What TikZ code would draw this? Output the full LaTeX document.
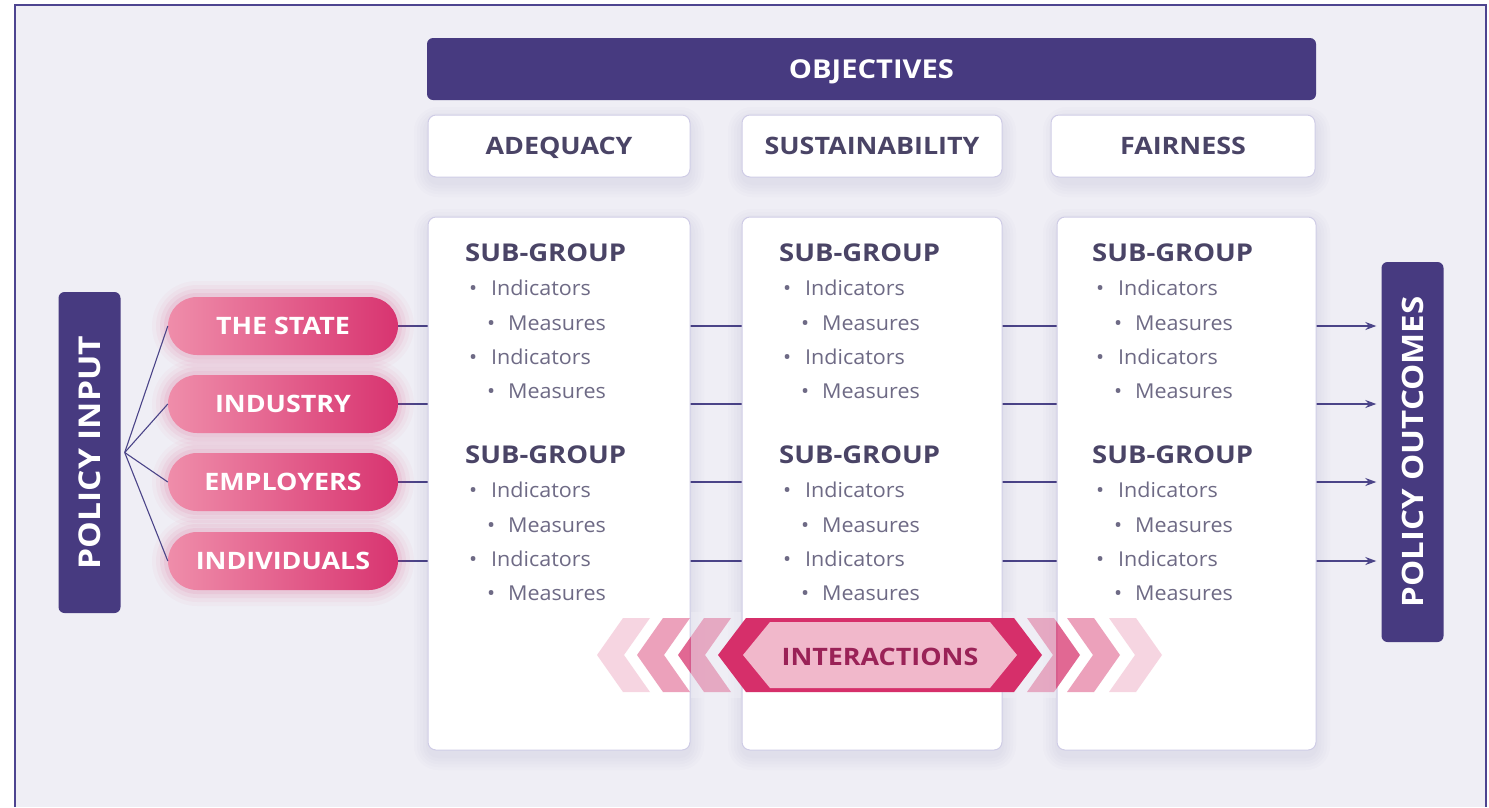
\documentclass[tikz,border=0pt]{standalone}
\usepackage{fontspec}
\setmainfont{Open Sans}[UprightFeatures={FakeStretch=1.05},BoldFeatures={FakeStretch=1.12}]
\usetikzlibrary{arrows.meta,calc}
\definecolor{bgc}{HTML}{EFEEF5}
\definecolor{framec}{HTML}{4D4490}
\definecolor{navy}{HTML}{473A80}
\definecolor{headtxt}{HTML}{4A4466}
\definecolor{bodytxt}{HTML}{6E6A85}
\definecolor{boxline}{HTML}{CFCCE6}
\definecolor{linec}{HTML}{4B4488}
\definecolor{pinkL}{HTML}{EF8DAA}
\definecolor{pinkR}{HTML}{D83470}
\definecolor{hexdark}{HTML}{D62F6A}
\definecolor{hexlight}{HTML}{F1B8CB}
\definecolor{inttxt}{HTML}{9A2257}
\pgfdeclarelayer{bgl}
\pgfdeclarelayer{back}
\pgfsetlayers{bgl,back,main}
\tikzset{
  navybox/.style={fill=navy, rounded corners=6pt, inner sep=0pt, text=white,
    text height=18pt, text depth=0pt,
    font=\fontsize{26}{28}\selectfont\bfseries},
  headbox/.style={fill=white, draw=boxline, line width=1pt, rounded corners=8pt,
    minimum height=62pt, inner sep=0pt, text=headtxt, text height=17pt, text depth=0pt,
    font=\fontsize{24}{28}\selectfont\bfseries},
  colbox/.style={fill=white, draw=boxline, line width=1pt, rounded corners=8pt,
    minimum height=533pt, inner sep=0pt},
  sidebox/.style={fill=navy, rounded corners=6pt, inner sep=0pt, text=white,
    rotate=90, minimum height=62pt, text height=21pt, text depth=0pt},
  pill/.style={rounded corners=29pt, minimum width=230pt, minimum height=58pt,
    inner sep=0pt, left color=pinkL, right color=pinkR, text=white,
    text height=17pt, text depth=0pt,
    font=\fontsize{24}{28}\selectfont\bfseries},
  conn/.style={draw=linec, line width=1.3pt},
  sgtxt/.style={anchor=base west, inner sep=0pt, text=headtxt,
    font=\fontsize{24.5}{28}\selectfont\bfseries},
  itemtxt/.style={anchor=base west, inner sep=0pt, text=bodytxt,
    font=\fontsize{20.5}{24}\selectfont},
}
\begin{document}
\begin{tikzpicture}[x=1pt,y=-1pt]
\useasboundingbox (0,0) rectangle (1489,807);
\begin{pgfonlayer}{bgl}
\fill[white] (0,0) rectangle (1489,807);
\fill[bgc] (15,5) rectangle (1486,807);
\draw[framec, line width=1.8pt] (15,807) -- (15,5) -- (1486,5) -- (1486,807);
\end{pgfonlayer}

% soft shadows of the columns
\foreach \xa/\xb in {428/690, 742/1002, 1057/1316}{
  \foreach \e in {14,11,8,5,2}{
    \fill[navy, opacity=0.014, rounded corners=10pt+\e] (\xa-\e,217-\e+6) rectangle (\xb+\e,750+\e+6);
    \fill[navy, opacity=0.014, rounded corners=10pt+\e] (\xa-\e,115-\e+6) rectangle (\xb+\e,177+\e+6);
  }
}

% objectives bar and headers
\node[navybox, minimum width=889pt, minimum height=62pt] (obj) at (871.5,69) {OBJECTIVES};
\node[headbox, minimum width=262pt] (adq) at (559,146) {ADEQUACY};
\node[headbox, minimum width=260pt] (sus) at (872,146) {SUSTAINABILITY};
\node[headbox, minimum width=264pt] (fai) at (1183,146) {FAIRNESS};

% columns
\node[colbox, minimum width=262pt] (c1) at (559,483.5) {};
\node[colbox, minimum width=260pt] (c2) at (872,483.5) {};
\node[colbox, minimum width=259pt] (c3) at (1186.5,483.5) {};

% column contents
\foreach \x [count=\i] in {465,779,1092}{
  \foreach \g/\dy in {a/0,b/202}{
    \node[sgtxt] (sg\i\g) at (\x,261+\dy) {SUB-GROUP};
    \node[itemtxt] (ba\i\g) at (\x+4,295+\dy) {•};
    \node[itemtxt] (ia\i\g) at (\x+26,295+\dy) {Indicators};
    \node[itemtxt] (bb\i\g) at (\x+22,330+\dy) {•};
    \node[itemtxt] (ma\i\g) at (\x+43,330+\dy) {Measures};
    \node[itemtxt] (bc\i\g) at (\x+4,364+\dy) {•};
    \node[itemtxt] (ib\i\g) at (\x+26,364+\dy) {Indicators};
    \node[itemtxt] (bd\i\g) at (\x+22,398+\dy) {•};
    \node[itemtxt] (mb\i\g) at (\x+43,398+\dy) {Measures};
  }
}

% interaction chevrons
\def\d{26}\def\w{27}
\foreach \t/\op in {1080/0.72, 1120/0.45, 1162/0.2}{
  \fill[hexdark, opacity=\op] (\t,655) -- (\t-\d,618) -- (\t-\d-\w,618) -- (\t-\w,655)
     -- (\t-\d-\w,692) -- (\t-\d,692) -- cycle;
}
\foreach \t/\op in {678/0.72, 637/0.45, 597/0.2}{
  \fill[hexdark, opacity=\op] (\t,655) -- (\t+\d,618) -- (\t+\d+\w,618) -- (\t+\w,655)
     -- (\t+\d+\w,692) -- (\t+\d,692) -- cycle;
}
% tint of the gaps between the columns
\fill[bgc, opacity=0.5] (691,612) rectangle (741,698);
\fill[bgc, opacity=0.5] (1003,612) rectangle (1056,698);
\fill[hexdark] (718,655) -- (746,618) -- (1014,618) -- (1042,655) -- (1014,692) -- (746,692) -- cycle;
\fill[hexlight] (743,655) -- (770,622) -- (990,622) -- (1017,655) -- (990,688) -- (770,688) -- cycle;
\node[text=inttxt, font=\fontsize{24}{28}\selectfont\bfseries, inner sep=0pt,
  text height=17pt, text depth=0pt] (int) at (880,657) {INTERACTIONS};

% policy input / outcomes
\node[sidebox, minimum width=321pt, font=\fontsize{30}{32}\selectfont\bfseries] (pin) at (89.5,452.5) {POLICY INPUT};
\node[sidebox, minimum width=380pt, font=\fontsize{29.5}{32}\selectfont\bfseries] (pout) at (1412.5,452) {POLICY OUTCOMES};

% pills with glow
\foreach \y in {326,404,482,561}{
  \foreach \e/\op in {16/0.03,12/0.04,8/0.06,4/0.08}{
    \fill[pinkR, opacity=\op, rounded corners=29pt+\e] (168-\e,\y-29-\e) rectangle (398+\e,\y+29+\e);
  }
}
\node[pill] (p1) at (283,326) {THE STATE};
\node[pill] (p2) at (283,404) {INDUSTRY};
\node[pill] (p3) at (283,482) {EMPLOYERS};
\node[pill] (p4) at (283,561) {INDIVIDUALS};

% connectors
\coordinate (fan) at ($(pin.south)+(4,0)$);
\begin{pgfonlayer}{back}
\foreach \p in {p1,p2,p3,p4}{
  \draw[conn, -{Stealth[length=11pt,width=8pt]}, shorten >=5pt] (\p.east) -- (\p.east -| pout.north);
}
\end{pgfonlayer}
\foreach \p in {p1,p2,p3,p4}{
  \draw[conn, line width=1.1pt] (fan) -- (\p.west);
}
\end{tikzpicture}
\end{document}
